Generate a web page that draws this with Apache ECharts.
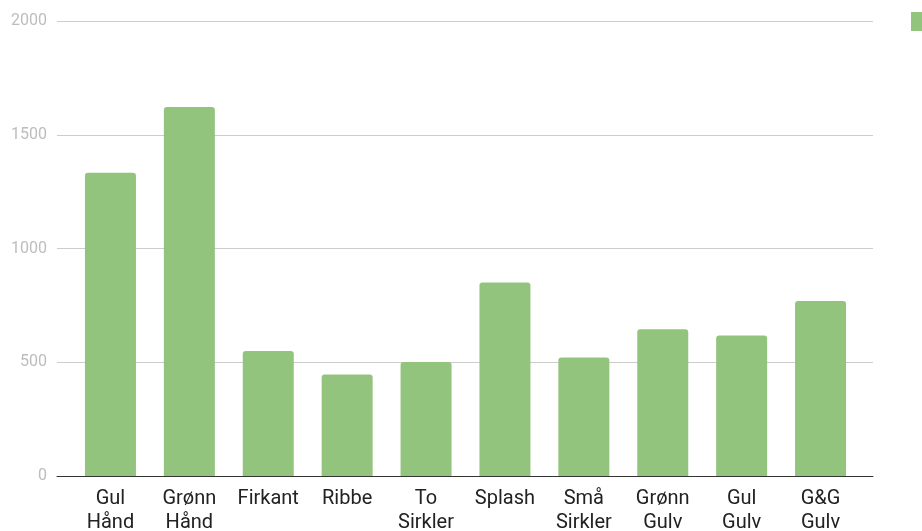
<!DOCTYPE html>
<html>
<head>
<meta charset="utf-8">
<script src="https://cdn.jsdelivr.net/npm/echarts@6/dist/echarts.min.js"></script>
<style>
  html, body { margin: 0; padding: 0; background: #fff; }
  #chart { width: 922px; height: 531px; }
</style>
</head>
<body>
<div id="chart"></div>
<script>
// data
var categories = ["Gul Hånd", "Grønn Hånd", "Firkant", "Ribbe", "To Sirkler", "Splash", "Små Sirkler", "Grønn Gulv", "Gul Gulv", "G&G Gulv"];
var values = [1333, 1622, 549, 446, 501, 851, 521, 645, 618, 769];
var yTicks = [0, 500, 1000, 1500, 2000];

var chart = echarts.init(document.getElementById("chart"));
chart.setOption({
  animation: false,
  textStyle: { fontFamily: "Roboto" },
  legend: {
    left: 911,
    top: 12,
    padding: 0,
    itemWidth: 19,
    itemHeight: 19,
    itemGap: 6,
    textStyle: { fontSize: 14, color: "#222" },
    data: [{ name: "Antall", icon: "rect" }]
  },
  grid: [
    // wide grid: gridlines, y labels, axis line
    { left: 57, right: 49, top: 21, bottom: 55, outerBoundsMode: "none" },
    // narrow grid: bars and category labels
    { left: 71, right: 62, top: 21, bottom: 55, outerBoundsMode: "none" }
  ],
  xAxis: [
    {
      gridIndex: 0,
      type: "category",
      data: categories,
      axisLine: { show: true, lineStyle: { color: "#333", width: 1 } },
      axisTick: { show: false },
      axisLabel: { show: false }
    },
    {
      gridIndex: 1,
      type: "category",
      data: categories,
      axisLine: { show: false },
      axisTick: { show: false },
      axisLabel: {
        interval: 0,
        margin: 11,
        fontSize: 20,
        lineHeight: 24,
        color: "#222",
        formatter: function (v) { return v.replace(" ", "\n"); }
      }
    }
  ],
  yAxis: [
    {
      gridIndex: 0,
      type: "value",
      min: yTicks[0],
      max: yTicks[yTicks.length - 1],
      interval: 500,
      axisLine: { show: false },
      axisTick: { show: false },
      axisLabel: {
        color: "#bdbdbd",
        fontSize: 16,
        margin: 10,
        formatter: function (v) { return String(v); }
      },
      splitLine: { lineStyle: { color: "#cccccc", width: 1 } }
    },
    {
      gridIndex: 1,
      type: "value",
      min: yTicks[0],
      max: yTicks[yTicks.length - 1],
      interval: 500,
      show: false,
      splitLine: { show: false }
    }
  ],
  series: [
    {
      name: "Antall",
      type: "bar",
      xAxisIndex: 1,
      yAxisIndex: 1,
      data: values,
      barWidth: 51,
      itemStyle: { color: "#93c47d", borderRadius: [3, 3, 0, 0] }
    }
  ]
});
</script>
</body>
</html>
